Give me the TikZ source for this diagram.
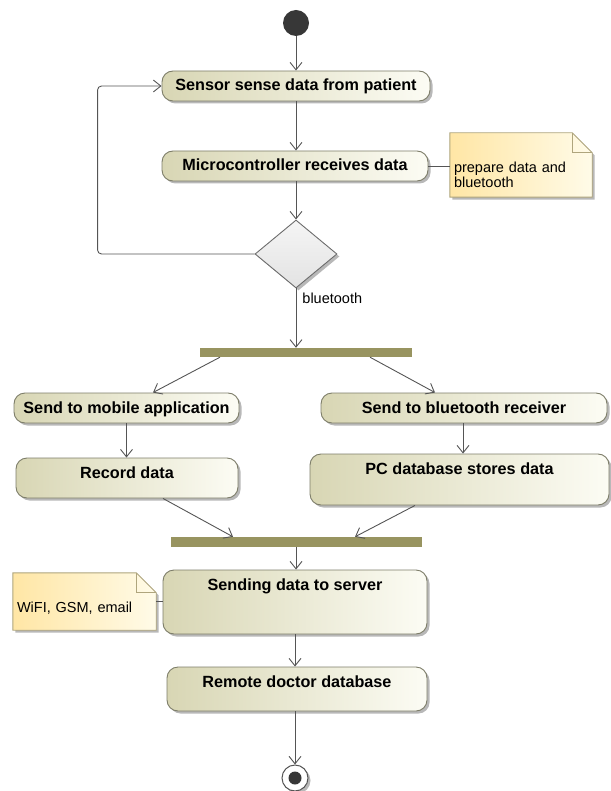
\documentclass[tikz,border=0pt]{standalone}
\usepackage{fontspec}
\setmainfont{Liberation Sans}
\usetikzlibrary{arrows.meta,shapes.geometric,shadows,calc,backgrounds}
\definecolor{boxL}{RGB}{216,214,180}
\definecolor{boxR}{RGB}{252,252,244}
\definecolor{boxD}{RGB}{125,125,105}
\definecolor{lineC}{RGB}{85,85,85}
\definecolor{barC}{RGB}{152,148,96}
\definecolor{noteL}{RGB}{255,230,165}
\definecolor{noteR}{RGB}{255,251,232}
\definecolor{noteD}{RGB}{175,165,125}
\definecolor{initC}{RGB}{55,55,55}
\begin{document}
\begin{tikzpicture}[x=1pt,y=-1pt,
 shd/.style={drop shadow={shadow xshift=2.5pt,shadow yshift=-2.5pt,fill=black,opacity=0.28}},
 act/.style={draw=boxD, line width=0.9pt, rounded corners=11pt, left color=boxL, right color=boxR, shd,
   inner xsep=0pt, inner ysep=0pt, text height=20pt, font=\fontsize{16.2}{19}\selectfont\bfseries, align=center},
 flow/.style={draw=lineC, line width=0.9pt, -{Straight Barb[length=7.5pt,width=12pt]}},
 plain/.style={draw=lineC, line width=0.9pt},
 bar/.style={fill=barC, draw=none, inner sep=0pt},
 notebox/.style={inner xsep=4pt, inner ysep=0pt, font=\fontsize{14.5}{15}\selectfont, align=left},
 noteshape/.style={draw=noteD, line width=0.9pt, left color=noteL, right color=noteR, shd},
 lbl/.style={font=\fontsize{14.5}{16}\selectfont, inner sep=0pt}
]
\useasboundingbox (0,0) rectangle (610,791);

% nodes
\node[circle, fill=initC, minimum size=26pt, inner sep=0pt] (start) at (296,23) {};
\node[act, minimum width=268pt, text depth=10pt] (sensor) at (296,86) {Sensor sense data from patient};
\node[act, minimum width=266pt, text depth=10pt] (micro) at (295,166) {Microcontroller receives data};
\node[notebox, text width=134pt, text height=40pt, text depth=24pt] (note1) at (521,165) {prepare data and\\bluetooth};
\node[diamond, minimum width=82pt, minimum height=68pt, inner sep=0pt, draw=gray!85!black, line width=0.9pt,
      top color=gray!8, bottom color=gray!22, shd] (dec) at (296,254) {};
\node[bar, minimum width=212pt, minimum height=9pt] (fork) at (306,352.5) {};
\node[act, minimum width=225pt, text depth=10pt] (mobile) at (126.5,408) {Send to mobile application};
\node[act, minimum width=286pt, text depth=10pt] (bt) at (464,408) {Send to bluetooth receiver};
\node[act, minimum width=222pt, text depth=20pt] (record) at (127,478) {Record data};
\node[act, minimum width=299pt, text depth=31pt] (pc) at (459.5,479.5) {PC database stores data};
\node[bar, minimum width=251pt, minimum height=10pt] (join) at (296.5,542) {};
\node[act, minimum width=264pt, text depth=44pt] (send) at (295,602) {Sending data to server};
\node[notebox, text width=135pt, text height=39pt, text depth=18pt] (note2) at (84.5,601.5) {WiFI, GSM, email};
\node[act, minimum width=260pt, text depth=24pt] (remote) at (297,689) {Remote doctor database};
\node[circle, draw=lineC, fill=white, line width=1pt, minimum size=26pt, inner sep=0pt, shd,
      path picture={\fill[initC] (path picture bounding box.center) circle (6.5pt);}] (end) at (295,778) {};

% note outlines
\begin{scope}[on background layer]
\foreach \n in {note1,note2}{
  \path[noteshape] (\n.north west) -- ([xshift=-20pt]\n.north east) -- ([yshift=-20pt]\n.north east)
     -- (\n.south east) -- (\n.south west) -- cycle;
  \draw[draw=noteD, line width=0.9pt] ([xshift=-20pt]\n.north east) -- ([xshift=-20pt,yshift=-20pt]\n.north east)
     -- ([yshift=-20pt]\n.north east);
}
\end{scope}

% connectors
\draw[flow] (start) -- (sensor.north);
\draw[flow] (sensor.south) -- (sensor.south |- micro.north);
\draw[plain] (micro.east) -- (micro.east -| note1.west);
\draw[flow] (dec.north |- micro.south) -- (dec.north);
\draw[flow, rounded corners=4pt] (dec.west) -- ++(-157,0) |- (sensor.west);
\draw[flow] (dec.south) -- node[lbl, pos=0.17, anchor=west, xshift=6pt] {bluetooth} (dec.south |- fork.north);
\draw[flow] ([xshift=-86pt]fork.south) -- ([xshift=26.5pt]mobile.north);
\draw[flow] ([xshift=64pt]fork.south) -- ([xshift=-29pt]bt.north);
\draw[flow] (mobile.south) -- (mobile.south |- record.north);
\draw[flow] ([xshift=-1pt]bt.south) -- ([xshift=-1pt]bt.south |- pc.north);
\draw[flow] ([xshift=36pt]record.south) -- ([xshift=-63.5pt]join.north);
\draw[flow] ([xshift=-44.5pt]pc.south) -- ([xshift=58.5pt]join.north);
\draw[flow] ([xshift=1pt]send.north |- join.south) -- ([xshift=1pt]send.north);
\draw[plain] (note2.east) -- (note2.east -| send.west);
\draw[flow] (send.south) -- (send.south |- remote.north);
\draw[flow] (end.north |- remote.south) -- (end.north);
\end{tikzpicture}
\end{document}
